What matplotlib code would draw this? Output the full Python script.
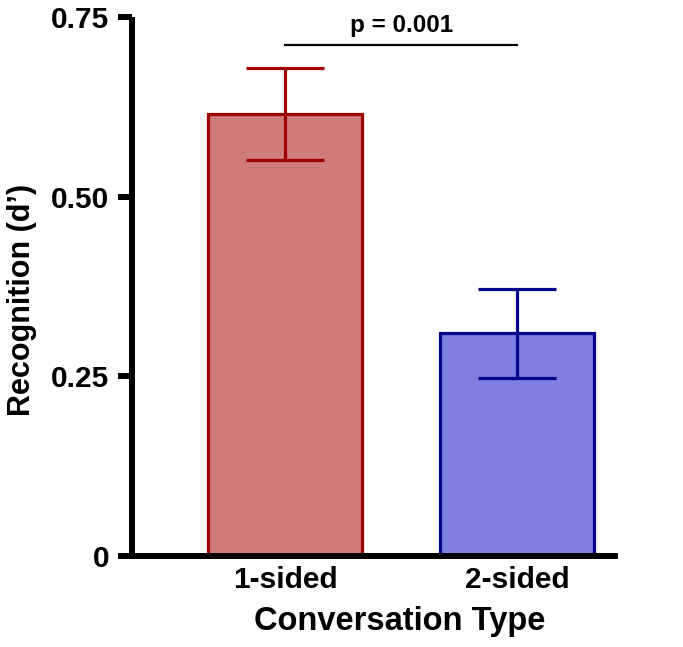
import matplotlib
matplotlib.use("Agg")
import matplotlib.pyplot as plt

categories = ["1-sided", "2-sided"]
means = [0.615, 0.310]
errors = [0.064, 0.062]
fill_colors = ["#D07B7B", "#7F7FDF"]
edge_colors = ["#A00000", "#00008B"]
y_ticks = [0, 0.25, 0.50, 0.75]
y_tick_labels = ["0", "0.25", "0.50", "0.75"]
p_text = "p = 0.001"
p_level = 0.711

plt.rcParams['font.family'] = ['Liberation Sans', 'DejaVu Sans']
plt.rcParams['font.weight'] = 'bold'

W, H = 683, 647
fig = plt.figure(figsize=(W/100, H/100), dpi=100)
ax = fig.add_axes([132/W, (H-556)/H, (615-132)/W, (556-17)/H])

x = list(range(len(categories)))
for i in x:
    ax.bar(i, means[i], width=0.662, color=fill_colors[i], edgecolor=edge_colors[i],
           linewidth=2.3, zorder=2)
    ax.errorbar(i, means[i], yerr=errors[i], ecolor=edge_colors[i], elinewidth=2.3,
                capsize=28, capthick=2.3, fmt='none', zorder=3)

ax.set_xlim(-0.658, 1.42)
ax.set_ylim(0, 0.75)
ax.set_yticks(y_ticks)
ax.set_yticklabels(y_tick_labels, fontsize=21.5, fontweight='bold')
ax.set_xticks(x)
ax.set_xticklabels(categories, fontsize=21.5, fontweight='bold')
ax.tick_params(axis='x', length=0, pad=7)
ax.tick_params(axis='y', length=10, width=4.3, pad=6.5)
for s in ['top', 'right']:
    ax.spines[s].set_visible(False)
for s in ['left', 'bottom']:
    ax.spines[s].set_linewidth(4.3)
ax.spines['left'].set_capstyle('butt')

fig.text(399.5/W, (H-630)/H, "Conversation Type", fontsize=23.5, fontweight='bold',
         ha='center', va='baseline')
fig.text(22/W, (H-299.5)/H, "Recognition (d\u2019)", fontsize=22, fontweight='bold',
         ha='center', va='center', rotation=90)

ax.plot([x[0], x[1]], [p_level, p_level], color='black', linewidth=1.6, clip_on=False)
ax.text((x[0]+x[1])/2, p_level + 0.011, p_text, ha='center', va='bottom',
        fontsize=17.5, fontweight='bold', clip_on=False)

fig.savefig("out.png", dpi=100)
